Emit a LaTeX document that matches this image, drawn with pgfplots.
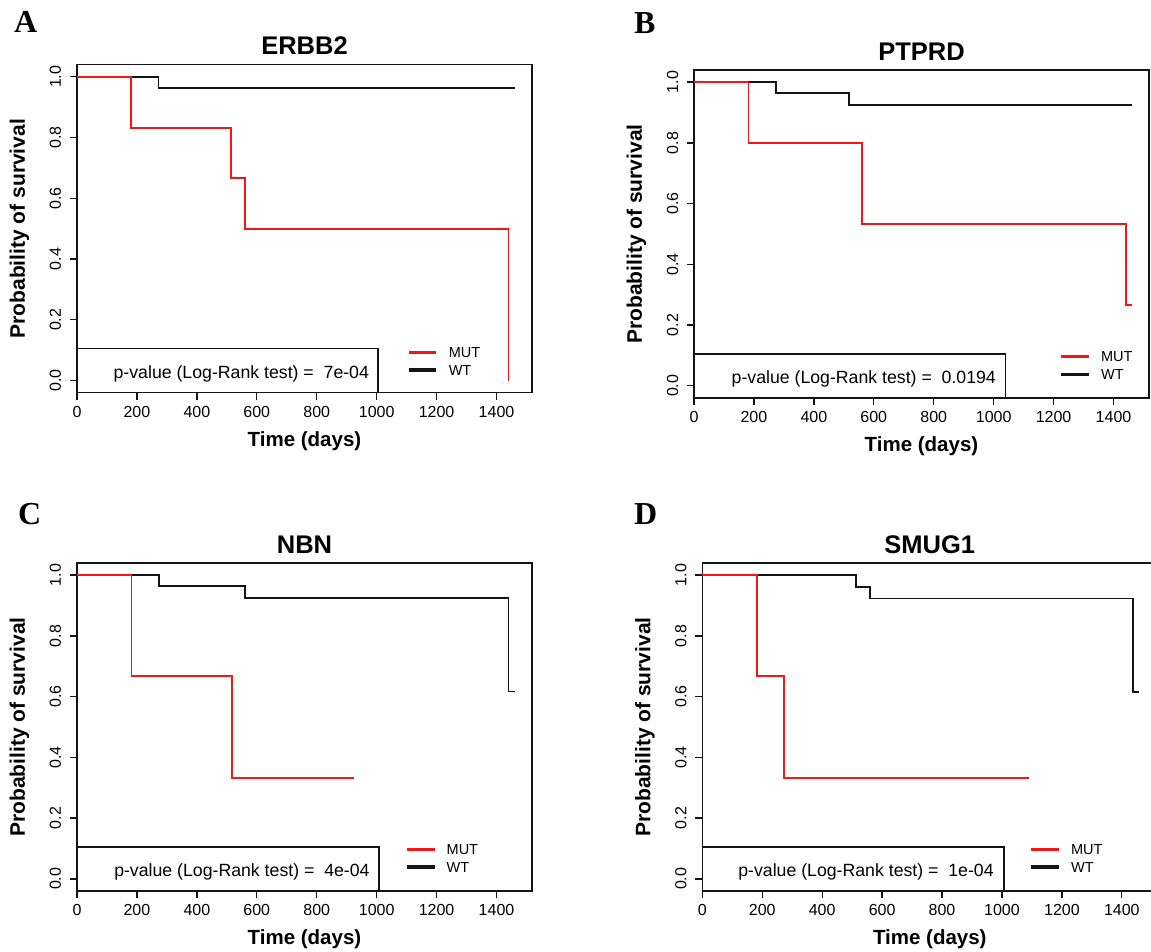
\documentclass[border=0pt]{standalone}
\usepackage{fontspec}
\setmainfont{Liberation Sans}
\newfontfamily\letterfont{Liberation Serif}
\usepackage{pgfplots}
\pgfplotsset{compat=1.18}

\definecolor{kmred}{RGB}{250,20,20}
\definecolor{kmblack}{RGB}{20,20,20}

\pgfplotsset{
  km/.style={
    width=455pt, height=328pt, scale only axis,
    xmin=0, xmax=1518.4, ymin=-0.04, ymax=1.04,
    clip=false,
    axis line style={line width=1.5pt, kmblack},
    xtick={0,200,400,600,800,1000,1200,1400},
    ytick={0,0.2,0.4,0.6,0.8,1.0},
    xtick pos=left, ytick pos=left,
    tick align=outside, major tick length=7pt,
    tick style={line width=1.3pt, kmblack},
    /pgf/number format/assume math mode=true,
    tick label style={font=\fontsize{16}{17}\selectfont, inner sep=0pt},
    xticklabel style={anchor=base, /pgf/number format/1000 sep={}},
    yticklabel style={rotate=90, anchor=base, /pgf/number format/.cd, fixed, fixed zerofill, precision=1},
    xticklabel shift=17.8pt,
    yticklabel shift=9pt,
    title style={at={(0.5,1.012)}, anchor=base, inner sep=0pt, font=\fontsize{25.5}{28}\selectfont\bfseries},
    xlabel style={at={(0.5,-0.1634)}, anchor=base, inner sep=0pt, font=\fontsize{20.5}{22}\selectfont\bfseries},
    ylabel style={at={(-0.1143,0.5)}, anchor=base, inner sep=0pt, font=\fontsize{21}{23}\selectfont\bfseries},
    xlabel={Time (days)}, ylabel={Probability of survival},
  },
  wt/.style={const plot, no marks, line width=1.9pt, kmblack},
  mut/.style={const plot, no marks, line width=1.9pt, kmred},
}

\newcommand{\pbox}[3]{%
  \draw[line width=1.5pt, kmblack] (axis cs:0,-0.04) rectangle (axis cs:#1,0.105);
  \node[anchor=base east, inner sep=0pt, font=\fontsize{17.7}{19}\selectfont] at (axis cs:#2,0.008) {p-value (Log-Rank test) = ~#3};
}
\newcommand{\kmlegend}[5]{%
  \draw[line width=3.2pt, kmred] (axis cs:#1,#4) -- (axis cs:#2,#4);
  \draw[line width=3.2pt, kmblack] (axis cs:#1,#5) -- (axis cs:#2,#5);
  \node[anchor=base west, inner sep=0pt, font=\fontsize{14.5}{16}\selectfont] at (axis cs:#3,#4-0.017) {MUT};
  \node[anchor=base west, inner sep=0pt, font=\fontsize{14.5}{16}\selectfont] at (axis cs:#3,#5-0.017) {WT};
}

\begin{document}
\begin{tikzpicture}
\useasboundingbox (0,0) rectangle (1151pt,951pt);

% Panel letters
\node[anchor=base west, inner sep=0pt, font=\fontsize{32}{34}\letterfont\bfseries] at (14pt,918pt) {A};
\node[anchor=base west, inner sep=0pt, font=\fontsize{32}{34}\letterfont\bfseries] at (634pt,917pt) {B};
\node[anchor=base west, inner sep=0pt, font=\fontsize{32}{34}\letterfont\bfseries] at (18pt,426.5pt) {C};
\node[anchor=base west, inner sep=0pt, font=\fontsize{32}{34}\letterfont\bfseries] at (634pt,426pt) {D};

% A: ERBB2
\begin{axis}[km, at={(77pt,558.3pt)}, anchor=south west, title={ERBB2}]
\addplot[wt] coordinates {(0,1) (272,0.964) (1460,0.964)};
\addplot[mut] coordinates {(0,1) (181,0.833) (515,0.667) (562,0.5) (1440,0)};
\pbox{1004}{975}{7e-04}
\kmlegend{1107}{1199}{1240}{0.093}{0.035}
\end{axis}

% B: PTPRD
\begin{axis}[km, at={(694pt,553pt)}, anchor=south west, title={PTPRD}]
\addplot[wt] coordinates {(0,1) (273,0.964) (516,0.925) (1462,0.925)};
\addplot[mut] coordinates {(0,1) (182,0.8) (561,0.533) (1441,0.267) (1462,0.267)};
\pbox{1039}{1008}{0.0194}
\kmlegend{1225}{1318}{1358}{0.097}{0.038}
\end{axis}

% C: NBN
\begin{axis}[km, at={(77pt,60pt)}, anchor=south west, title={NBN}]
\addplot[wt] coordinates {(0,1) (274,0.964) (562,0.925) (1440,0.617) (1460,0.617)};
\addplot[mut] coordinates {(0,1) (182,0.667) (516,0.333) (923,0.333)};
\pbox{1007}{977}{4e-04}
\kmlegend{1102}{1194}{1233}{0.097}{0.039}
\end{axis}

% D: SMUG1
\begin{axis}[km, at={(702.3pt,60pt)}, anchor=south west, title={SMUG1}]
\addplot[wt] coordinates {(0,1) (513,0.962) (560,0.923) (1438,0.615) (1458,0.615)};
\addplot[mut] coordinates {(0,1) (182,0.667) (274,0.333) (1091,0.333)};
\pbox{1006}{973}{1e-04}
\kmlegend{1096}{1189}{1230}{0.097}{0.039}
\end{axis}
\end{tikzpicture}
\end{document}
